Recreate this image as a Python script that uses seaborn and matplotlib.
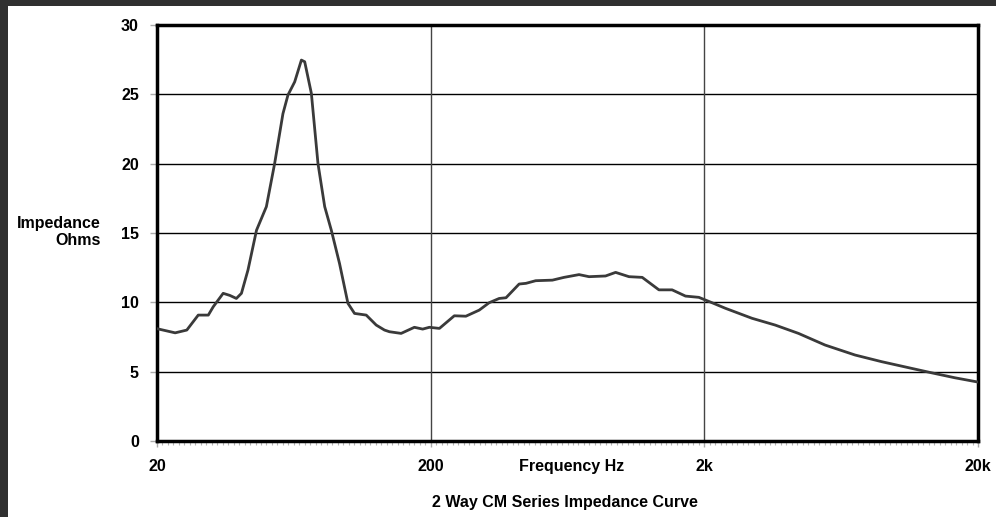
"""2 Way CM Series impedance curve."""

import matplotlib
matplotlib.use("Agg")
import matplotlib.pyplot as plt
import matplotlib.ticker as mticker
from matplotlib.patches import Rectangle
import numpy as np
import pandas as pd
import seaborn as sns

# values
FREQ_HZ = [
    20, 23.3, 25.7, 28.3, 30.8, 32.1, 34.9, 36.9, 39.0, 40.7, 43.0, 46.2,
    50.2, 53.8, 57.7, 60.2, 63.7, 67.4, 69.3, 73.3, 77.5, 82.0, 86.7, 92.9,
    99.7, 105.4, 116.3, 126.5, 135.6, 141.4, 156.0, 174.4, 187.0, 197.8,
    215.3, 244, 269, 301, 327, 356, 377, 421, 446, 484, 557, 614, 697, 758,
    871, 948, 1061, 1186, 1365, 1525, 1707, 1910, 2135, 2388, 2986, 3631,
    4416, 5524, 7110, 8893, 11430, 13520, 16460, 20000,
]
IMPEDANCE = [
    8.1, 7.8, 8.0, 9.08, 9.08, 9.68, 10.65, 10.5, 10.28, 10.65, 12.33, 15.2,
    16.9, 20.0, 23.6, 24.95, 25.9, 27.47, 27.35, 25.07, 20.0, 16.9, 15.2, 12.8,
    9.93, 9.2, 9.08, 8.36, 8.0, 7.88, 7.76, 8.2, 8.07, 8.2,
    8.12, 9.03, 9.0, 9.44, 9.97, 10.28, 10.33, 11.32, 11.37, 11.56, 11.6, 11.8, 12.0, 11.85,
    11.9, 12.16, 11.85, 11.8, 10.9, 10.9, 10.45, 10.36, 9.97, 9.57, 8.85, 8.36,
    7.76, 6.92, 6.2, 5.72, 5.24, 4.92, 4.56, 4.25,
]
Y_TICKS = [0, 5, 10, 15, 20, 25, 30]
X_TICKS = [20, 200, 2000, 20000]
X_TICK_LABELS = ["20", "200", "2k", "20k"]

sns.set_style("white")
plt.rcParams["font.family"] = ["Liberation Sans", "DejaVu Sans"]
plt.rcParams["text.color"] = "black"
plt.rcParams["xtick.labelcolor"] = "black"
plt.rcParams["ytick.labelcolor"] = "black"

df = pd.DataFrame({"freq": FREQ_HZ, "ohms": IMPEDANCE})

fig = plt.figure(figsize=(9.96, 5.17), dpi=100, facecolor="#303030")
# white page with the dark frame showing on the left and top
fig.patches.append(Rectangle((8 / 996, 0), 1, 1 - 6 / 517, transform=fig.transFigure,
                             facecolor="white", edgecolor="none", zorder=-10))
ax = fig.add_axes([157 / 996, 1 - 441 / 517, 821 / 996, 416 / 517])
ax.set_zorder(2)

sns.lineplot(data=df, x="freq", y="ohms", ax=ax, color="#3a3a3a", linewidth=2.0,
             sort=False, zorder=3)

ax.set_xscale("log")
ax.set_xlim(20, 20000)
ax.set_ylim(0, 30)
ax.set_xticks(X_TICKS)
ax.set_xticklabels(X_TICK_LABELS)
# dense little category ticks along the bottom, like the original sheet
ax.xaxis.set_minor_locator(mticker.FixedLocator(20 * 10 ** (np.arange(1, 150) / 50)))
ax.xaxis.set_minor_formatter(mticker.NullFormatter())
ax.set_yticks(Y_TICKS)
ax.set_xlabel("")
ax.set_ylabel("")

for y in Y_TICKS[1:-1]:
    ax.axhline(y, color="black", linewidth=1.0, zorder=1)
for x in X_TICKS[1:-1]:
    ax.axvline(x, color="#444444", linewidth=1.0, zorder=1)

for side in ["left", "right", "top", "bottom"]:
    ax.spines[side].set_visible(True)
    ax.spines[side].set_color("black")
    ax.spines[side].set_linewidth(2.5)

ax.tick_params(axis="y", which="major", direction="out", length=5, width=1,
               color="#aaaaaa", pad=8, labelsize=11.5, left=True)
ax.tick_params(axis="x", which="major", direction="out", length=4, width=1,
               color="#aaaaaa", pad=9, labelsize=11.5, bottom=True)
ax.tick_params(axis="x", which="minor", direction="out", length=3, width=0.8,
               color="#b5b5b5", bottom=True)
for lab in ax.get_xticklabels() + ax.get_yticklabels():
    lab.set_fontweight("bold")

fig.text(572 / 996, 1 - 467 / 517, "Frequency Hz", ha="center", va="center",
         fontsize=11.5, fontweight="bold")
fig.text(565 / 996, 1 - 502 / 517, "2 Way CM Series Impedance Curve", ha="center",
         va="center", fontsize=11.5, fontweight="bold")
fig.text(101 / 996, 1 - 232 / 517, "Impedance\nOhms", ha="right", va="center",
         fontsize=11.5, fontweight="bold", multialignment="right", linespacing=1.1)

fig.savefig("out.png", dpi=100, facecolor=fig.get_facecolor())
